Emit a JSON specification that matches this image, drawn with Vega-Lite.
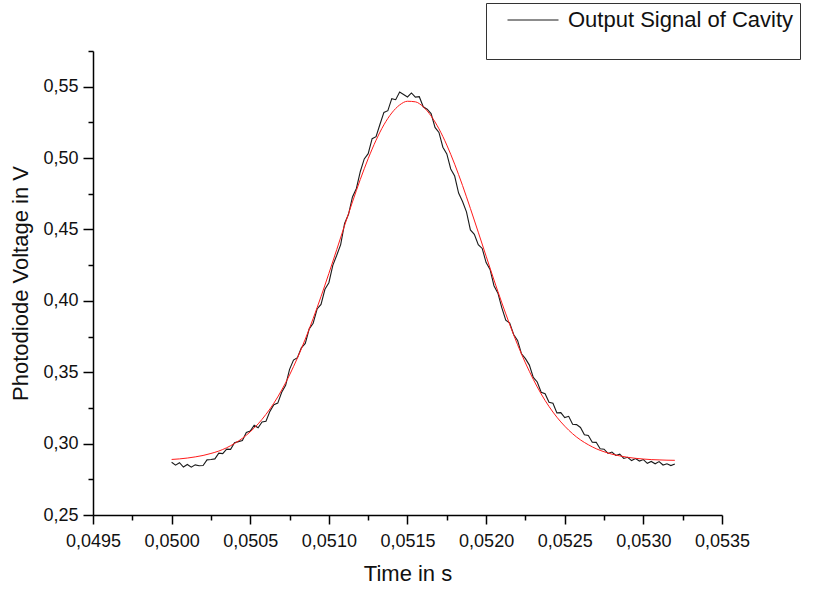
{
  "$schema": "https://vega.github.io/schema/vega-lite/v6.json",
  "width": 629,
  "height": 464,
  "autosize": {"type": "none"},
  "padding": {"left": 93, "top": 51, "right": 99, "bottom": 77},
  "background": "white",
  "config": {"view": {"stroke": null}},
  "datasets": {
    "signal": [
      {"t":0.05,"v":0.2869},{"t":0.050025,"v":0.2849},{"t":0.05005,"v":0.2866},{"t":0.050075,"v":0.2836},{"t":0.0501,"v":0.2854},{"t":0.050125,"v":0.2835},{"t":0.05015,"v":0.2851},{"t":0.050175,"v":0.2845},{"t":0.0502,"v":0.2847},{"t":0.050225,"v":0.2886},{"t":0.05025,"v":0.2889},{"t":0.050275,"v":0.2893},{"t":0.0503,"v":0.2933},{"t":0.050325,"v":0.2930},{"t":0.05035,"v":0.2961},{"t":0.050375,"v":0.2960},{"t":0.0504,"v":0.3006},{"t":0.050425,"v":0.3014},{"t":0.05045,"v":0.3022},{"t":0.050475,"v":0.3078},{"t":0.0505,"v":0.3088},{"t":0.050525,"v":0.3128},{"t":0.05055,"v":0.3111},{"t":0.050575,"v":0.3151},{"t":0.0506,"v":0.3157},{"t":0.050625,"v":0.3226},{"t":0.05065,"v":0.3273},{"t":0.050675,"v":0.3284},{"t":0.0507,"v":0.3360},{"t":0.050725,"v":0.3408},{"t":0.05075,"v":0.3520},{"t":0.050775,"v":0.3585},{"t":0.0508,"v":0.3602},{"t":0.050825,"v":0.3671},{"t":0.05085,"v":0.3702},{"t":0.050875,"v":0.3804},{"t":0.0509,"v":0.3843},{"t":0.050925,"v":0.3943},{"t":0.05095,"v":0.3975},{"t":0.050975,"v":0.4081},{"t":0.051,"v":0.4127},{"t":0.051025,"v":0.4249},{"t":0.05105,"v":0.4319},{"t":0.051075,"v":0.4394},{"t":0.0511,"v":0.4543},{"t":0.051125,"v":0.4606},{"t":0.05115,"v":0.4728},{"t":0.051175,"v":0.4787},{"t":0.0512,"v":0.4906},{"t":0.051225,"v":0.4994},{"t":0.05125,"v":0.5031},{"t":0.051275,"v":0.5136},{"t":0.0513,"v":0.5150},{"t":0.051325,"v":0.5237},{"t":0.05135,"v":0.5320},{"t":0.051375,"v":0.5332},{"t":0.0514,"v":0.5416},{"t":0.051425,"v":0.5409},{"t":0.05145,"v":0.5462},{"t":0.051475,"v":0.5445},{"t":0.0515,"v":0.5428},{"t":0.051525,"v":0.5456},{"t":0.05155,"v":0.5427},{"t":0.051575,"v":0.5430},{"t":0.0516,"v":0.5359},{"t":0.051625,"v":0.5342},{"t":0.05165,"v":0.5312},{"t":0.051675,"v":0.5215},{"t":0.0517,"v":0.5180},{"t":0.051725,"v":0.5076},{"t":0.05175,"v":0.5029},{"t":0.051775,"v":0.4924},{"t":0.0518,"v":0.4874},{"t":0.051825,"v":0.4755},{"t":0.05185,"v":0.4696},{"t":0.051875,"v":0.4623},{"t":0.0519,"v":0.4497},{"t":0.051925,"v":0.4466},{"t":0.05195,"v":0.4393},{"t":0.051975,"v":0.4367},{"t":0.052,"v":0.4268},{"t":0.052025,"v":0.4220},{"t":0.05205,"v":0.4106},{"t":0.052075,"v":0.4054},{"t":0.0521,"v":0.3951},{"t":0.052125,"v":0.3865},{"t":0.05215,"v":0.3844},{"t":0.052175,"v":0.3764},{"t":0.0522,"v":0.3723},{"t":0.052225,"v":0.3629},{"t":0.05225,"v":0.3595},{"t":0.052275,"v":0.3550},{"t":0.0523,"v":0.3464},{"t":0.052325,"v":0.3432},{"t":0.05235,"v":0.3360},{"t":0.052375,"v":0.3349},{"t":0.0524,"v":0.3290},{"t":0.052425,"v":0.3283},{"t":0.05245,"v":0.3215},{"t":0.052475,"v":0.3217},{"t":0.0525,"v":0.3182},{"t":0.052525,"v":0.3191},{"t":0.05255,"v":0.3136},{"t":0.052575,"v":0.3133},{"t":0.0526,"v":0.3113},{"t":0.052625,"v":0.3062},{"t":0.05265,"v":0.3057},{"t":0.052675,"v":0.3010},{"t":0.0527,"v":0.3009},{"t":0.052725,"v":0.2964},{"t":0.05275,"v":0.2961},{"t":0.052775,"v":0.2931},{"t":0.0528,"v":0.2941},{"t":0.052825,"v":0.2917},{"t":0.05285,"v":0.2926},{"t":0.052875,"v":0.2896},{"t":0.0529,"v":0.2904},{"t":0.052925,"v":0.2881},{"t":0.05295,"v":0.2895},{"t":0.052975,"v":0.2878},{"t":0.053,"v":0.2888},{"t":0.053025,"v":0.2862},{"t":0.05305,"v":0.2875},{"t":0.053075,"v":0.2859},{"t":0.0531,"v":0.2874},{"t":0.053125,"v":0.2850},{"t":0.05315,"v":0.2859},{"t":0.053175,"v":0.2846},{"t":0.0532,"v":0.2858}
    ],
    "fit": [
      {"t":0.05,"v":0.2889},{"t":0.05005,"v":0.2893},{"t":0.0501,"v":0.2899},{"t":0.05015,"v":0.2907},{"t":0.0502,"v":0.2917},{"t":0.05025,"v":0.2931},{"t":0.0503,"v":0.2948},{"t":0.05035,"v":0.2971},{"t":0.0504,"v":0.3001},{"t":0.05045,"v":0.3037},{"t":0.0505,"v":0.3083},{"t":0.05055,"v":0.3138},{"t":0.0506,"v":0.3205},{"t":0.05065,"v":0.3283},{"t":0.0507,"v":0.3375},{"t":0.05075,"v":0.3481},{"t":0.0508,"v":0.3600},{"t":0.05085,"v":0.3732},{"t":0.0509,"v":0.3876},{"t":0.05095,"v":0.4030},{"t":0.051,"v":0.4192},{"t":0.05105,"v":0.4359},{"t":0.0511,"v":0.4528},{"t":0.05115,"v":0.4693},{"t":0.0512,"v":0.4851},{"t":0.05125,"v":0.4996},{"t":0.0513,"v":0.5125},{"t":0.05135,"v":0.5233},{"t":0.0514,"v":0.5316},{"t":0.05145,"v":0.5372},{"t":0.0515,"v":0.5398},{"t":0.05155,"v":0.5394},{"t":0.0516,"v":0.5359},{"t":0.05165,"v":0.5295},{"t":0.0517,"v":0.5205},{"t":0.05175,"v":0.5091},{"t":0.0518,"v":0.4957},{"t":0.05185,"v":0.4808},{"t":0.0519,"v":0.4647},{"t":0.05195,"v":0.4481},{"t":0.052,"v":0.4313},{"t":0.05205,"v":0.4146},{"t":0.0521,"v":0.3986},{"t":0.05215,"v":0.3834},{"t":0.0522,"v":0.3693},{"t":0.05225,"v":0.3565},{"t":0.0523,"v":0.3450},{"t":0.05235,"v":0.3348},{"t":0.0524,"v":0.3260},{"t":0.05245,"v":0.3185},{"t":0.0525,"v":0.3122},{"t":0.05255,"v":0.3069},{"t":0.0526,"v":0.3026},{"t":0.05265,"v":0.2992},{"t":0.0527,"v":0.2964},{"t":0.05275,"v":0.2943},{"t":0.0528,"v":0.2926},{"t":0.05285,"v":0.2914},{"t":0.0529,"v":0.2904},{"t":0.05295,"v":0.2897},{"t":0.053,"v":0.2892},{"t":0.05305,"v":0.2888},{"t":0.0531,"v":0.2886},{"t":0.05315,"v":0.2884},{"t":0.0532,"v":0.2883}
    ]
  },
  "encoding": {
    "x": {
      "field": "t", "type": "quantitative",
      "scale": {"domain": [0.0495, 0.0535], "nice": false, "zero": false},
      "axis": {
        "title": "Time in s",
        "values": [0.0495,0.04975,0.05,0.05025,0.0505,0.05075,0.051,0.05125,0.0515,0.05175,0.052,0.05225,0.0525,0.05275,0.053,0.05325,0.0535],
        "labelExpr": "abs(datum.value*2000-round(datum.value*2000))<0.01 ? replace(format(datum.value,'.4f'),'.',',') : ''",
        "tickSize": {"condition": {"test": "abs(datum.value*2000-round(datum.value*2000))<0.01", "value": 9}, "value": 5},
        "grid": false, "domainColor": "#000", "tickColor": "#000", "domainWidth": 1.5, "tickWidth": 1.5,
        "labelFont": "Liberation Sans", "labelFontSize": 18, "labelColor": "#111", "labelPadding": 8,
        "labelFlush": false, "labelOverlap": false, "labelBound": false,
        "titleFont": "Liberation Sans", "titleFontSize": 22, "titleFontWeight": "normal", "titleColor": "#111", "titlePadding": 13
      }
    },
    "y": {
      "field": "v", "type": "quantitative",
      "scale": {"domain": [0.25, 0.575], "nice": false, "zero": false},
      "axis": {
        "title": "Photodiode Voltage in V",
        "values": [0.25,0.275,0.3,0.325,0.35,0.375,0.4,0.425,0.45,0.475,0.5,0.525,0.55,0.575],
        "labelExpr": "abs(datum.value*20-round(datum.value*20))<0.01 ? replace(format(datum.value,'.2f'),'.',',') : ''",
        "tickSize": {"condition": {"test": "abs(datum.value*20-round(datum.value*20))<0.01", "value": 10}, "value": 5},
        "grid": false, "domainColor": "#000", "tickColor": "#000", "domainWidth": 1.5, "tickWidth": 1.5,
        "labelFont": "Liberation Sans", "labelFontSize": 18, "labelColor": "#111", "labelPadding": 5,
        "labelFlush": false, "labelOverlap": false, "labelBound": false,
        "titleFont": "Liberation Sans", "titleFontSize": 22, "titleFontWeight": "normal", "titleColor": "#111", "titlePadding": 10
      }
    }
  },
  "layer": [
    {
      "data": {"name": "signal"},
      "mark": {"type": "line", "strokeWidth": 1.1},
      "encoding": {
        "color": {
          "datum": "Output Signal of Cavity", "type": "nominal",
          "scale": {"domain": ["Output Signal of Cavity"], "range": ["#1a1a1a"]},
          "legend": {
            "orient": "none", "legendX": 393, "legendY": -48,
            "strokeColor": "#333", "fillColor": "white", "padding": 6,
            "symbolType": "M-2.55,0H2.55", "symbolSize": 400, "symbolStrokeWidth": 1, "symbolOffset": 30,
            "labelFont": "Liberation Sans", "labelFontSize": 22, "labelColor": "#111", "labelOffset": 24, "labelLimit": 500,
            "title": " ", "titleOrient": "bottom", "titleFontSize": 17, "titlePadding": 6
          }
        }
      }
    },
    {
      "data": {"name": "fit"},
      "mark": {"type": "line", "color": "#ff1a1a", "strokeWidth": 1, "interpolate": "monotone"},
      "encoding": {}
    }
  ]
}
